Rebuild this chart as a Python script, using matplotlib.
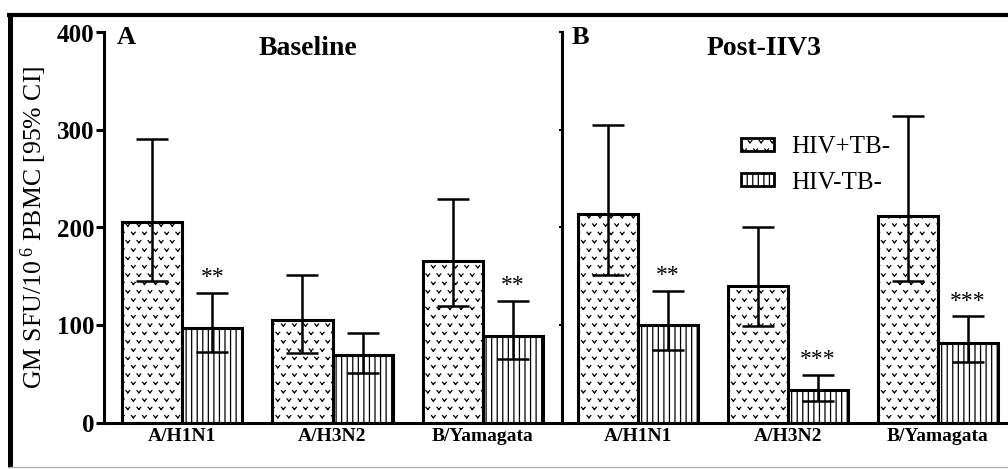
import numpy as np
import matplotlib
matplotlib.use("Agg")
import matplotlib.pyplot as plt
from matplotlib import hatch as mhatch
from matplotlib.path import Path
from matplotlib.lines import Line2D
from matplotlib.patches import Patch

strains = ["A/H1N1", "A/H3N2", "B/Yamagata"]
groups = ["HIV+TB-", "HIV-TB-"]

# GM SFU per 10^6 PBMC with 95% CI, baseline
base_pos = [206, 105, 166]
base_pos_lo = [145, 71, 120]
base_pos_hi = [291, 151, 229]
base_neg = [97, 69, 89]
base_neg_lo = [72, 51, 65]
base_neg_hi = [133, 92, 125]
base_stars = ["**", "", "**"]

# post-IIV3
post_pos = [214, 140, 212]
post_pos_lo = [151, 99, 145]
post_pos_hi = [305, 200, 314]
post_neg = [100, 33, 82]
post_neg_lo = [74, 22, 62]
post_neg_hi = [135, 49, 109]
post_stars = ["**", "***", "***"]

plt.rcParams["font.family"] = ["Liberation Serif", "DejaVu Serif"]
plt.rcParams["mathtext.fontset"] = "custom"
plt.rcParams["mathtext.rm"] = "Liberation Serif"
plt.rcParams["mathtext.it"] = "Liberation Serif:italic"
plt.rcParams["mathtext.bf"] = "Liberation Serif:bold"
plt.rcParams["hatch.linewidth"] = 0.9


class ChevronHatch(mhatch.HatchPatternBase):
    # '*' in a hatch string -> small open "v" marks on a staggered grid
    def __init__(self, hatch, density):
        k = hatch.count("*")
        self.ny = 2 * k * density
        self.nx = int(1.5 * k * density)
        if k == 0:
            self.num_vertices = 0
        else:
            n = (self.ny // 2 + 1) * (self.nx + 1) + (self.ny // 2) * self.nx
            self.num_vertices = 4 * n

    def set_vertices_and_codes(self, vertices, codes):
        w = 0.17 / self.nx
        h = 0.13 / self.ny
        # two separate strokes so nothing gets filled
        v = np.array([[-w, h], [0.0, -h], [0.0, -h], [w, h]])
        pts = []
        for i in range(self.ny + 1):
            if i % 2 == 0:
                xs = np.arange(self.nx + 1) / self.nx
            else:
                xs = (np.arange(self.nx) + 0.5) / self.nx
            for x in xs:
                pts.append(v + [x, i / self.ny])
        vertices[:] = np.concatenate(pts)
        codes[:] = np.tile([Path.MOVETO, Path.LINETO, Path.MOVETO, Path.LINETO],
                           len(pts))


mhatch._hatch_types = [t for t in mhatch._hatch_types if t is not mhatch.Stars] + [ChevronHatch]

W, H = 1008, 469
fig = plt.figure(figsize=(W / 100, H / 100), dpi=100)
ax1 = fig.add_axes([104 / W, 1 - 422.5 / H, 457 / W, 390 / H])
ax2 = fig.add_axes([562 / W, 1 - 422.5 / H, 456 / W, 390 / H])

hatches = ["*", "|||"]
bw = 0.4


def draw_panel(ax, pos, pos_lo, pos_hi, neg, neg_lo, neg_hi, stars, xmin):
    x = np.arange(len(strains))
    for vals, lo, hi, off, hat in [(pos, pos_lo, pos_hi, -bw / 2, hatches[0]),
                                   (neg, neg_lo, neg_hi, bw / 2, hatches[1])]:
        ax.bar(x + off, vals, bw, facecolor="white", edgecolor="black",
               linewidth=2.2, hatch=hat, zorder=2)
        ax.errorbar(x + off, vals,
                    yerr=[np.subtract(vals, lo), np.subtract(hi, vals)],
                    fmt="none", ecolor="black", elinewidth=1.8,
                    capsize=11.5, capthick=1.8, zorder=3)
    for xi, hi, s in zip(x, neg_hi, stars):
        if s:
            ax.annotate(s, (xi + bw / 2, hi), xytext=(0, 7),
                        textcoords="offset points", ha="center",
                        va="baseline", fontsize=17)
    ax.set_xlim(xmin, xmin + 3.04)
    ax.set_ylim(0, 400)
    ax.set_xticks(x)
    ax.set_xticklabels(strains, fontweight="bold", fontsize=14)
    ax.tick_params(axis="x", length=0, pad=4)
    for side in ["top", "right"]:
        ax.spines[side].set_visible(False)
    for side in ["left", "bottom"]:
        ax.spines[side].set_linewidth(2.2)
    ax.patch.set_alpha(0)


draw_panel(ax1, base_pos, base_pos_lo, base_pos_hi, base_neg, base_neg_lo,
           base_neg_hi, base_stars, -0.52)
draw_panel(ax2, post_pos, post_pos_lo, post_pos_hi, post_neg, post_neg_lo,
           post_neg_hi, post_stars, -0.506)

ax1.set_yticks([0, 100, 200, 300, 400])
ax1.set_yticklabels(["0", "100", "200", "300", "400"], fontweight="bold")
ax1.tick_params(axis="y", length=6, width=2.2, pad=1, labelsize=18)
ax1.set_ylabel("GM SFU/10$^{\\ 6}$ PBMC [95% CI]", fontsize=18.5)
ax1.yaxis.set_label_coords(-0.12, 0.5)

ax2.set_yticks([0, 100, 200, 300, 400])
ax2.tick_params(axis="y", length=2, width=1.5, labelleft=False)

ax1.text(0.028, 388, "A", transform=ax1.get_yaxis_transform(),
         fontsize=19, fontweight="bold", va="baseline")
ax2.text(0.022, 388, "B", transform=ax2.get_yaxis_transform(),
         fontsize=19, fontweight="bold", va="baseline")
ax1.text(0.447, 377, "Baseline", transform=ax1.get_yaxis_transform(),
         fontsize=20, fontweight="bold", ha="center", va="baseline")
ax2.text(0.443, 377, "Post-IIV3", transform=ax2.get_yaxis_transform(),
         fontsize=20, fontweight="bold", ha="center", va="baseline")

handles = [Patch(facecolor="white", edgecolor="black", linewidth=2, hatch=h)
           for h in hatches]
fig.legend(handles, groups, loc="upper left",
           bbox_to_anchor=(741 / W, 1 - 136 / H), frameon=False,
           fontsize=18, borderpad=0, borderaxespad=0, handlelength=1.3,
           handleheight=0.42, handletextpad=0.7, labelspacing=0.55)

# outer frame
fig.add_artist(Line2D([7 / W, 1], [1 - 15 / H] * 2, color="black", lw=3,
                      solid_capstyle="butt"))
fig.add_artist(Line2D([9.5 / W] * 2, [1 - 13 / H, 1 - 467 / H], color="black",
                      lw=3.6, solid_capstyle="butt"))
fig.add_artist(Line2D([9.5 / W, 1], [1 - 467 / H] * 2, color="#b0b0b0", lw=1))

fig.savefig("out.png", dpi=100)
